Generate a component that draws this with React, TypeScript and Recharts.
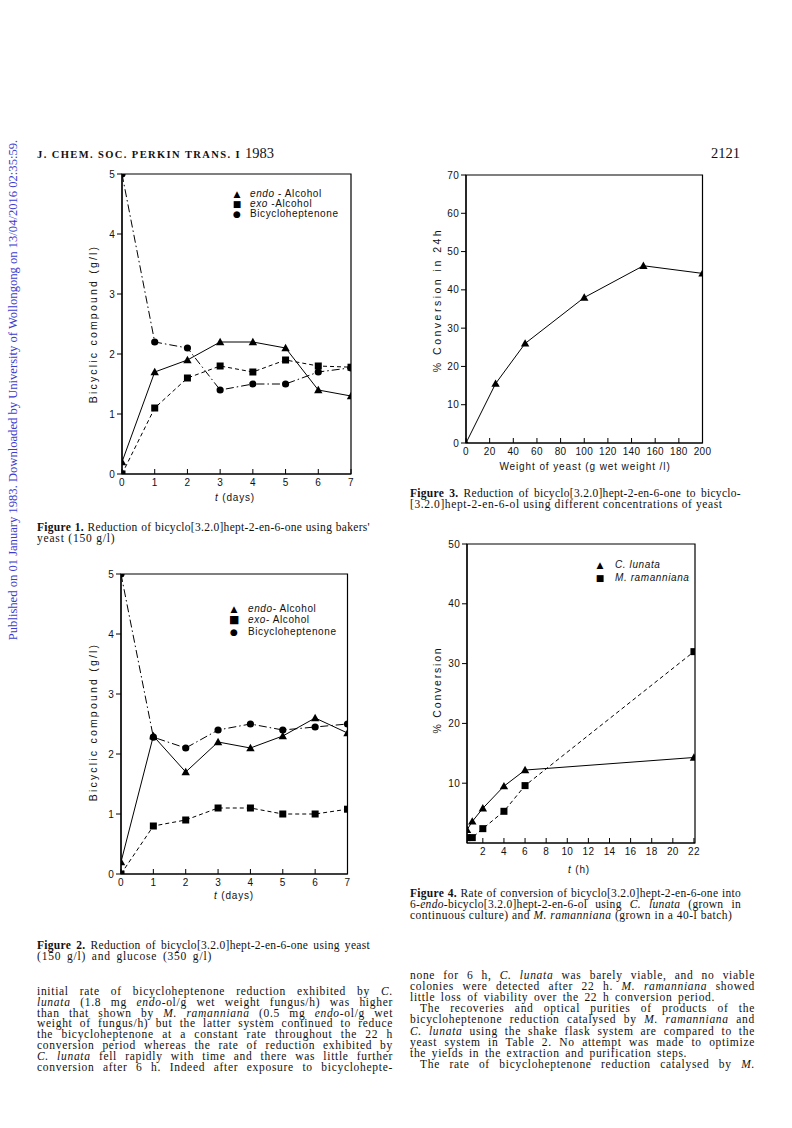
import React from 'react';
import { LineChart, Line, XAxis, YAxis, ReferenceArea } from 'recharts';

// ---------- data ----------
const days = [0, 1, 2, 3, 4, 5, 6, 7];
const f1Endo = [0.2, 1.7, 1.9, 2.2, 2.2, 2.1, 1.4, 1.3];
const f1Exo = [0, 1.1, 1.6, 1.8, 1.7, 1.9, 1.8, 1.78];
const f1Bic = [5, 2.2, 2.1, 1.4, 1.5, 1.5, 1.7, 1.77];

const f2Endo = [0.2, 2.3, 1.7, 2.2, 2.1, 2.3, 2.6, 2.35];
const f2Exo = [0, 0.8, 0.9, 1.1, 1.1, 1.0, 1.0, 1.08];
const f2Bic = [5, 2.28, 2.1, 2.4, 2.5, 2.4, 2.45, 2.5];

const yeastWeight = [0, 25, 50, 100, 150, 200];
const f3Conv = [0, 15.5, 26, 38, 46.3, 44.3];

const hours = [0.5, 1, 2, 4, 6, 22];
const cLunata = [2.2, 3.6, 5.8, 9.5, 12.2, 14.3];
const mRamanniana = [0.9, 0.9, 2.4, 5.3, 9.6, 32];

const dayTicks = [0, 1, 2, 3, 4, 5, 6, 7];
const gTicks = [0, 1, 2, 3, 4, 5];
const f3XTicks = [0, 20, 40, 60, 80, 100, 120, 140, 160, 180, 200];
const f3YTicks = [0, 10, 20, 30, 40, 50, 60, 70];
const f4XTicks = [2, 4, 6, 8, 10, 12, 14, 16, 18, 20, 22];
const f4YTicks = [10, 20, 30, 40, 50];

const fig1Data = days.map((d, i) => ({ t: d, endo: f1Endo[i], exo: f1Exo[i], bic: f1Bic[i] }));
const fig2Data = days.map((d, i) => ({ t: d, endo: f2Endo[i], exo: f2Exo[i], bic: f2Bic[i] }));
const fig3Data = yeastWeight.map((w, i) => ({ w, conv: f3Conv[i] }));
const fig4Data = hours.map((h, i) => ({ h, cl: cLunata[i], mr: mRamanniana[i] }));

// ---------- styles ----------
const SANS = '"Liberation Sans", Arial, sans-serif';
const SERIF = '"Liberation Serif", "Times New Roman", serif';
const tickStyle = { fontFamily: SANS, fontSize: 10, fill: '#111', letterSpacing: 0.3 };

const triDot = (p: any) => {
  const { cx, cy, index } = p;
  if (cx == null || cy == null) return <g key={'t' + index} />;
  const s = 4.2;
  return <path key={'t' + index} d={`M${cx},${cy - s} L${cx + s},${cy + s * 0.75} L${cx - s},${cy + s * 0.75} Z`} fill="#000" />;
};
const sqDot = (p: any) => {
  const { cx, cy, index } = p;
  if (cx == null || cy == null) return <g key={'s' + index} />;
  return <rect key={'s' + index} x={cx - 3.5} y={cy - 3.5} width={7} height={7} fill="#000" />;
};
const cirDot = (p: any) => {
  const { cx, cy, index } = p;
  if (cx == null || cy == null) return <g key={'c' + index} />;
  return <circle key={'c' + index} cx={cx} cy={cy} r={3.6} fill="#000" />;
};

type Series = { key: string; dash?: string; dot: (p: any) => any };

function Plot(props: {
  left: number; top: number; plotW: number; plotH: number;
  data: any[]; xKey: string; xDomain: [number, number]; xTicks: number[];
  yDomain: [number, number]; yTicks: number[]; series: Series[];
}) {
  const m = { top: 6, right: 16, bottom: 6, left: 6 };
  const yw = 30;
  const xh = 30;
  const W = m.left + yw + props.plotW + m.right;
  const H = m.top + props.plotH + xh + m.bottom;
  return (
    <div style={{ position: 'absolute', left: props.left - m.left - yw, top: props.top - m.top }}>
      <LineChart width={W} height={H} data={props.data} margin={m}>
        <XAxis
          dataKey={props.xKey}
          type="number"
          domain={props.xDomain}
          ticks={props.xTicks}
          allowDataOverflow
          height={xh}
          stroke="#000"
          tickSize={-5}
          tickMargin={10}
          tick={tickStyle}
          axisLine={{ stroke: '#000', strokeWidth: 1.2 }}
          interval={0}
        />
        <YAxis
          type="number"
          domain={props.yDomain}
          ticks={props.yTicks}
          allowDataOverflow
          width={yw}
          stroke="#000"
          tickSize={5}
          tickMargin={2}
          tick={tickStyle}
          axisLine={{ stroke: '#000', strokeWidth: 1.2 }}
          interval={0}
        />
        <ReferenceArea
          x1={props.xDomain[0]} x2={props.xDomain[1]}
          y1={props.yDomain[0]} y2={props.yDomain[1]}
          fill="none" fillOpacity={0} stroke="#000" strokeWidth={1.2}
        />
        {props.series.map((s) => (
          <Line
            key={s.key}
            dataKey={s.key}
            type="linear"
            stroke="#000"
            strokeWidth={1}
            strokeDasharray={s.dash}
            dot={s.dot}
            activeDot={false}
            isAnimationActive={false}
            connectNulls
          />
        ))}
      </LineChart>
    </div>
  );
}

// ---------- text helpers ----------
const CAP = 11.5;
const BODY = 11.5;
const capStyle = { letterSpacing: 0.3 };
const bodyStyle = { letterSpacing: 0.7, wordSpacing: 2 };
function T(p: { x: number; y: number; size?: number; font?: string; children: any; style?: any; w?: number; align?: string; lh?: number }) {
  const size = p.size ?? CAP;
  const lh = p.lh ?? 10.8;
  return (
    <div style={{
      position: 'absolute', left: p.x, top: p.y - lh / 2, height: lh, lineHeight: lh + 'px',
      fontSize: size, fontFamily: p.font ?? SERIF, whiteSpace: 'nowrap', color: '#111',
      width: p.w, textAlign: (p.align as any) ?? 'left',
      textAlignLast: (p.align as any) ?? 'left',
      ...p.style,
    }}>{p.children}</div>
  );
}
function RotLabel(p: { cx: number; cy: number; children: any; spacing?: number }) {
  const w = 240;
  return (
    <div style={{
      position: 'absolute', left: p.cx - w / 2, top: p.cy - 7, width: w, height: 14, lineHeight: '14px',
      textAlign: 'center', transform: 'rotate(-90deg)', fontFamily: SANS, fontSize: 10.5,
      letterSpacing: p.spacing ?? 2.2, color: '#111', whiteSpace: 'nowrap',
    }}>{p.children}</div>
  );
}
function CLabel(p: { cx: number; cy: number; children: any; spacing?: number }) {
  const w = 260;
  return (
    <div style={{
      position: 'absolute', left: p.cx - w / 2, top: p.cy - 7, width: w, height: 14, lineHeight: '14px',
      textAlign: 'center', fontFamily: SANS, fontSize: 10, letterSpacing: p.spacing ?? 0.8, color: '#111', whiteSpace: 'nowrap',
    }}>{p.children}</div>
  );
}
function Leg(p: { x: number; y: number; sym: string; tx: number; children: any; symSize?: number }) {
  return (
    <>
      <div style={{ position: 'absolute', left: p.x - 5, top: p.y - 5, width: 10, height: 10, lineHeight: '10px', textAlign: 'center', fontSize: p.symSize ?? 9, fontFamily: '"DejaVu Sans", sans-serif' }}>{p.sym}</div>
      <div style={{ position: 'absolute', left: p.tx, top: p.y - 5, height: 10, lineHeight: '10px', fontFamily: SANS, fontSize: 10, letterSpacing: 0.6, whiteSpace: 'nowrap', color: '#111' }}>{p.children}</div>
    </>
  );
}

const I = (p: { children: any }) => <i>{p.children}</i>;

const leftBody: any[] = [
  <>initial rate of bicycloheptenone reduction exhibited by <I>C.</I></>,
  <><I>lunata</I> (1.8 mg <I>endo</I>-ol/g wet weight fungus/h) was higher</>,
  <>than that shown by <I>M. ramanniana</I> (0.5 mg <I>endo</I>-ol/g wet</>,
  <>weight of fungus/h) but the latter system continued to reduce</>,
  <>the bicycloheptenone at a constant rate throughout the 22 h</>,
  <>conversion period whereas the rate of reduction exhibited by</>,
  <><I>C. lunata</I> fell rapidly with time and there was little further</>,
  <>conversion after 6 h. Indeed after exposure to bicyclohepte-</>,
];
const rightBody: { t: any; full: boolean; indent: boolean }[] = [
  { t: <>none for 6 h, <I>C. lunata</I> was barely viable, and no viable</>, full: true, indent: false },
  { t: <>colonies were detected after 22 h. <I>M. ramanniana</I> showed</>, full: true, indent: false },
  { t: <>little loss of viability over the 22 h conversion period.</>, full: false, indent: false },
  { t: <>The recoveries and optical purities of products of the</>, full: true, indent: true },
  { t: <>bicycloheptenone reduction catalysed by <I>M. ramanniana</I> and</>, full: true, indent: false },
  { t: <><I>C. lunata</I> using the shake flask system are compared to the</>, full: true, indent: false },
  { t: <>yeast system in Table 2. No attempt was made to optimize</>, full: true, indent: false },
  { t: <>the yields in the extraction and purification steps.</>, full: false, indent: false },
  { t: <>The rate of bicycloheptenone reduction catalysed by <I>M.</I></>, full: true, indent: true },
];

export default function App() {
  return (
    <div style={{ position: 'absolute', left: 0, top: 0, width: 792, height: 1128, background: '#fff', overflow: 'hidden' }}>
      {/* sidebar */}
      <div style={{
        position: 'absolute', left: 13 - 270, top: 390 - 7, width: 540, height: 14, lineHeight: '14px',
        textAlign: 'center', transform: 'rotate(-90deg)', fontFamily: SERIF, fontSize: 12.6, color: '#3b3bd0', whiteSpace: 'nowrap',
      }}>Published on 01 January 1983. Downloaded by University of Wollongong on 13/04/2016 02:35:59.</div>

      {/* header */}
      <T x={37} y={153} size={10.5} lh={16} style={{ fontWeight: 'bold', letterSpacing: 1.4 }}>J. CHEM. SOC. PERKIN TRANS. I <span style={{ fontWeight: 'normal', fontSize: 14.5, letterSpacing: 0 }}>1983</span></T>
      <T x={711} y={153} size={14.5} lh={16}>2121</T>

      {/* Figure 1 */}
      <Plot left={122} top={174} plotW={229} plotH={300} data={fig1Data} xKey="t" xDomain={[0, 7]} xTicks={dayTicks}
        yDomain={[0, 5]} yTicks={gTicks}
        series={[
          { key: 'endo', dot: triDot },
          { key: 'exo', dash: '4 3', dot: sqDot },
          { key: 'bic', dash: '8 3 1.5 3', dot: cirDot },
        ]} />
      <RotLabel cx={93} cy={324}>Bicyclic compound (g/l)</RotLabel>
      <CLabel cx={235} cy={498}><i>t</i> (days)</CLabel>
      <Leg x={237} y={194} sym="▲" tx={250}><i>endo</i> - Alcohol</Leg>
      <Leg x={237} y={204} sym="■" tx={250}><i>exo</i> -Alcohol</Leg>
      <Leg x={237} y={214} sym="●" tx={250}>Bicycloheptenone</Leg>
      <T x={37} y={527} w={333} align="justify" style={capStyle}><b>Figure 1.</b> Reduction of bicyclo[3.2.0]hept-2-en-6-one using bakers'</T>
      <T x={37} y={538} style={{ letterSpacing: 0.8 }}>yeast (150 g/l)</T>

      {/* Figure 2 */}
      <Plot left={120.5} top={574} plotW={226.5} plotH={300} data={fig2Data} xKey="t" xDomain={[0, 7]} xTicks={dayTicks}
        yDomain={[0, 5]} yTicks={gTicks}
        series={[
          { key: 'endo', dot: triDot },
          { key: 'exo', dash: '4 3', dot: sqDot },
          { key: 'bic', dash: '8 3 1.5 3', dot: cirDot },
        ]} />
      <RotLabel cx={93} cy={722}>Bicyclic compound (g/l)</RotLabel>
      <CLabel cx={234} cy={896}><i>t</i> (days)</CLabel>
      <Leg x={234} y={609} sym="▲" tx={248}><i>endo</i>- Alcohol</Leg>
      <Leg x={234} y={620} sym="■" tx={248} symSize={11}><i>exo</i>- Alcohol</Leg>
      <Leg x={234} y={632} sym="●" tx={248}>Bicycloheptenone</Leg>
      <T x={37} y={945} w={333} align="justify" style={capStyle}><b>Figure 2.</b> Reduction of bicyclo[3.2.0]hept-2-en-6-one using yeast</T>
      <T x={37} y={956} style={{ letterSpacing: 0.8, wordSpacing: 2 }}>(150 g/l) and glucose (350 g/l)</T>

      {/* Figure 3 */}
      <Plot left={465.5} top={175} plotW={236.5} plotH={268} data={fig3Data} xKey="w" xDomain={[0, 200]} xTicks={f3XTicks}
        yDomain={[0, 70]} yTicks={f3YTicks}
        series={[{ key: 'conv', dot: triDot }]} />
      <RotLabel cx={437} cy={300} spacing={2.5}>% Conversion in 24h</RotLabel>
      <CLabel cx={585} cy={467} spacing={0.9}>Weight of yeast (g wet weight /l)</CLabel>
      <T x={410} y={493} w={331} align="justify" style={capStyle}><b>Figure 3.</b> Reduction of bicyclo[3.2.0]hept-2-en-6-one to bicyclo-</T>
      <T x={410} y={504} style={{ letterSpacing: 0.6 }}>[3.2.0]hept-2-en-6-ol using different concentrations of yeast</T>

      {/* Figure 4 */}
      <Plot left={467} top={544} plotW={228} plotH={299} data={fig4Data} xKey="h" xDomain={[0.5, 22.1]} xTicks={f4XTicks}
        yDomain={[0, 50]} yTicks={f4YTicks}
        series={[
          { key: 'cl', dot: triDot },
          { key: 'mr', dash: '4 3', dot: sqDot },
        ]} />
      <RotLabel cx={437} cy={690} spacing={1.8}>% Conversion</RotLabel>
      <CLabel cx={579} cy={870}><i>t</i> (h)</CLabel>
      <Leg x={600} y={565} sym="▲" tx={615}><i>C. lunata</i></Leg>
      <Leg x={600} y={578} sym="■" tx={615}><i>M. ramanniana</i></Leg>
      <T x={410} y={893} w={331} align="justify" style={capStyle}><b>Figure 4.</b> Rate of conversion of bicyclo[3.2.0]hept-2-en-6-one into</T>
      <T x={410} y={904} w={331} align="justify" style={capStyle}>6-<i>endo</i>-bicyclo[3.2.0]hept-2-en-6-ol using <i>C. lunata</i> (grown in</T>
      <T x={410} y={915} style={{ letterSpacing: 0.5 }}>continuous culture) and <i>M. ramanniana</i> (grown in a 40-l batch)</T>

      {/* body text */}
      {leftBody.map((l, i) => (
        <T key={'l' + i} x={37} y={991 + i * 10.95} size={BODY} w={356} align="justify" style={bodyStyle}>{l}</T>
      ))}
      {rightBody.map((l, i) => (
        <T key={'r' + i} x={l.indent ? 420 : 410} y={975 + i * 11.2} size={BODY} lh={11} w={l.full ? (l.indent ? 335 : 345) : undefined} align={l.full ? 'justify' : 'left'} style={bodyStyle}>{l.t}</T>
      ))}
    </div>
  );
}
